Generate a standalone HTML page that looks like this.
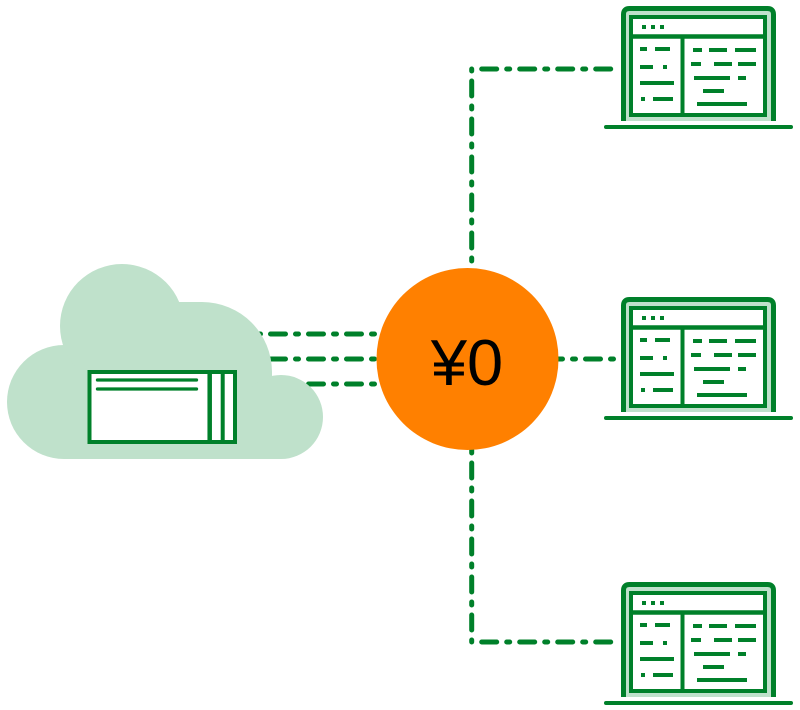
<!DOCTYPE html>
<html>
<head>
<meta charset="utf-8">
<style>
  html,body{margin:0;padding:0;background:#fff;}
  body{width:800px;height:710px;overflow:hidden;}
  svg{display:block;}
</style>
</head>
<body>
<svg width="800" height="710" viewBox="0 0 800 710" xmlns="http://www.w3.org/2000/svg">
  <defs>
    <g id="laptop">
      <!-- bezel light fill -->
      <path d="M623.5,121 V14.5 Q623.5,8.5 629.5,8.5 H767.5 Q773.5,8.5 773.5,14.5 V121 Z" fill="#bfe1cb"/>
      <!-- bezel outer stroke -->
      <path d="M623.5,121 V14.5 Q623.5,8.5 629.5,8.5 H767.5 Q773.5,8.5 773.5,14.5 V121" fill="none" stroke="#00802a" stroke-width="5"/>
      <!-- screen -->
      <rect x="631" y="17" width="134" height="98" fill="#fff" stroke="#00802a" stroke-width="4"/>
      <line x1="631" y1="36.5" x2="765" y2="36.5" stroke="#00802a" stroke-width="4.5"/>
      <line x1="682.5" y1="36.5" x2="682.5" y2="115" stroke="#00802a" stroke-width="4"/>
      <!-- dots -->
      <rect x="642" y="25" width="4" height="4" fill="#00802a"/>
      <rect x="651" y="25" width="4" height="4" fill="#00802a"/>
      <rect x="660" y="25" width="4" height="4" fill="#00802a"/>
      <!-- content lines -->
      <g stroke="#00802a" stroke-width="4">
        <line x1="640" y1="49" x2="647" y2="49"/>
        <line x1="655" y1="49" x2="670" y2="49"/>
        <line x1="640" y1="67" x2="653" y2="67"/>
        <line x1="663" y1="67" x2="667" y2="67"/>
        <line x1="640" y1="83" x2="674" y2="83"/>
        <line x1="641" y1="99" x2="645" y2="99"/>
        <line x1="653" y1="99" x2="673" y2="99"/>
        <line x1="693" y1="50" x2="702" y2="50"/>
        <line x1="709" y1="50" x2="727" y2="50"/>
        <line x1="735" y1="50" x2="756" y2="50"/>
        <line x1="691" y1="64" x2="701" y2="64"/>
        <line x1="714" y1="64" x2="732" y2="64"/>
        <line x1="738" y1="64" x2="756" y2="64"/>
        <line x1="694" y1="78" x2="730" y2="78"/>
        <line x1="738" y1="78" x2="746" y2="78"/>
        <line x1="703" y1="91" x2="724" y2="91"/>
        <line x1="697" y1="104" x2="747" y2="104"/>
      </g>
      <!-- base -->
      <line x1="606" y1="127" x2="791" y2="127" stroke="#00802a" stroke-width="4" stroke-linecap="round"/>
    </g>
  </defs>

  <!-- connectors -->
  <g fill="none" stroke="#00802a" stroke-width="5" stroke-linecap="round" stroke-dasharray="15 10 3 10">
    <!-- top -->
    <path d="M471.7,69 H611" stroke-dashoffset="28"/>
    <path d="M471.7,69 V280" stroke-dashoffset="26"/>
    <!-- bottom -->
    <path d="M471.7,642 H611" stroke-dashoffset="28"/>
    <path d="M471.7,642 V440" stroke-dashoffset="26"/>
    <!-- middle right -->
    <path d="M613.5,359 H545" stroke-dashoffset="25"/>
    <!-- left three -->
    <path d="M250,334 H390" stroke-dashoffset="17.5"/>
    <path d="M250,359 H390" stroke-dashoffset="17.5"/>
    <path d="M250,384 H390" stroke-dashoffset="17.5"/>
  </g>

  <!-- cloud -->
  <g fill="#bfe1cb">
    <circle cx="64" cy="402" r="57"/>
    <circle cx="122" cy="326" r="62"/>
    <path d="M122,302 H202 A70,70 0 0 1 272,372 V459 H122 Z"/>
    <circle cx="281" cy="417" r="42"/>
    <rect x="64" y="400" width="217" height="59"/>
  </g>

  <!-- document in cloud -->
  <rect x="89.5" y="372" width="145.5" height="70" fill="#fff" stroke="#00802a" stroke-width="4"/>
  <line x1="209.7" y1="372" x2="209.7" y2="442" stroke="#00802a" stroke-width="4.5"/>
  <line x1="222.7" y1="372" x2="222.7" y2="442" stroke="#00802a" stroke-width="4"/>
  <line x1="97.5" y1="380" x2="196.5" y2="380" stroke="#00802a" stroke-width="3.3" stroke-linecap="round"/>
  <line x1="97.5" y1="389" x2="196.5" y2="389" stroke="#00802a" stroke-width="3.3" stroke-linecap="round"/>

  <!-- orange circle -->
  <circle cx="467.5" cy="359" r="91" fill="#ff8000"/>
  <text x="467" y="385" text-anchor="middle" font-family="Liberation Sans, DejaVu Sans, sans-serif" font-size="65" fill="#000">¥0</text>

  <!-- laptops -->
  <use href="#laptop"/>
  <use href="#laptop" transform="translate(0,291)"/>
  <use href="#laptop" transform="translate(0,576)"/>
</svg>
</body>
</html>
